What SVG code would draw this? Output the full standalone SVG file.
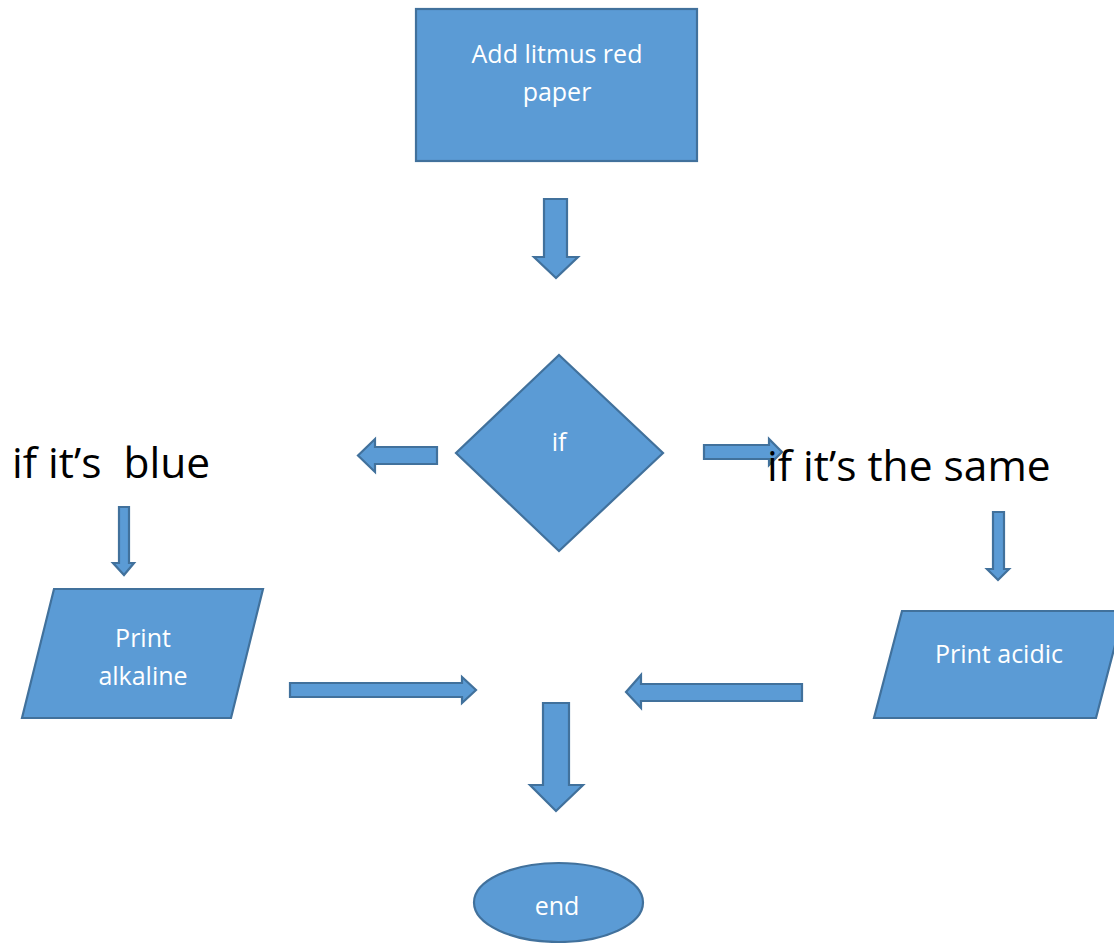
<svg xmlns="http://www.w3.org/2000/svg" width="1114" height="943" viewBox="0 0 1114 943">
  <style>
    .shape { fill: #5B9BD5; stroke: #41719C; stroke-width: 2.2; stroke-linejoin: miter; }
    .arrow { fill: #5B9BD5; stroke: #41719C; stroke-width: 2.2; stroke-linejoin: miter; }
    .lbl { font-family: "Open Sans", "Liberation Sans", sans-serif; font-size: 25px; fill: #FFFFFF; text-anchor: middle; }
    .big { font-family: "Open Sans", "Liberation Sans", sans-serif; font-size: 42.5px; fill: #000000; white-space: pre; }
  </style>
  <rect width="1114" height="943" fill="#FFFFFF"/>

  <g id="connectors">
    <polygon class="arrow" points="544,199 567,199 567,257 578,257 556,278 534,257 544,257"/>
    <polygon class="arrow" points="437,447 437,464 375,464 375,472 358,455.5 375,439 375,447"/>
    <polygon class="arrow" points="704,445 769,445 769,439 782,452 769,465 769,459 704,459"/>
    <polygon class="arrow" points="119,507 129,507 129,563 134,563 124,575 113,563 119,563"/>
    <polygon class="arrow" points="993,512 1004,512 1004,569 1009,569 998,580 987,569 993,569"/>
    <polygon class="arrow" points="290,683 462,683 462,677 476,690 462,703 462,697 290,697"/>
    <polygon class="arrow" points="802,684 802,701 641,701 641,708 626,692 641,675 641,684"/>
    <polygon class="arrow" points="543,703 569,703 569,785 583,785 556,811 530,785 543,785"/>
  </g>

  <g id="start">
    <rect class="shape" x="416" y="9" width="281" height="152"/>
    <text class="lbl" x="557" y="63">Add litmus red</text>
    <text class="lbl" x="557" y="101">paper</text>
  </g>

  <g id="decision">
    <polygon class="shape" points="559,355 663,453 559,551 456,453"/>
    <text class="lbl" x="559" y="451">if</text>
  </g>

  <g id="label-blue">
    <text class="big" x="12" y="478" xml:space="preserve">if it’s  blue</text>
  </g>

  <g id="label-same">
    <text class="big" x="767" y="481">if it’s the same</text>
  </g>

  <g id="print-alkaline">
    <polygon class="shape" points="54,589 263,589 231,718 22,718"/>
    <text class="lbl" x="143" y="647">Print</text>
    <text class="lbl" x="143" y="685">alkaline</text>
  </g>

  <g id="print-acidic">
    <polygon class="shape" points="902,611 1124,611 1096,718 874,718"/>
    <text class="lbl" x="999" y="663">Print acidic</text>
  </g>

  <g id="end">
    <ellipse class="shape" cx="558.5" cy="902.5" rx="84.5" ry="39.5"/>
    <text class="lbl" x="557" y="915">end</text>
  </g>
</svg>
